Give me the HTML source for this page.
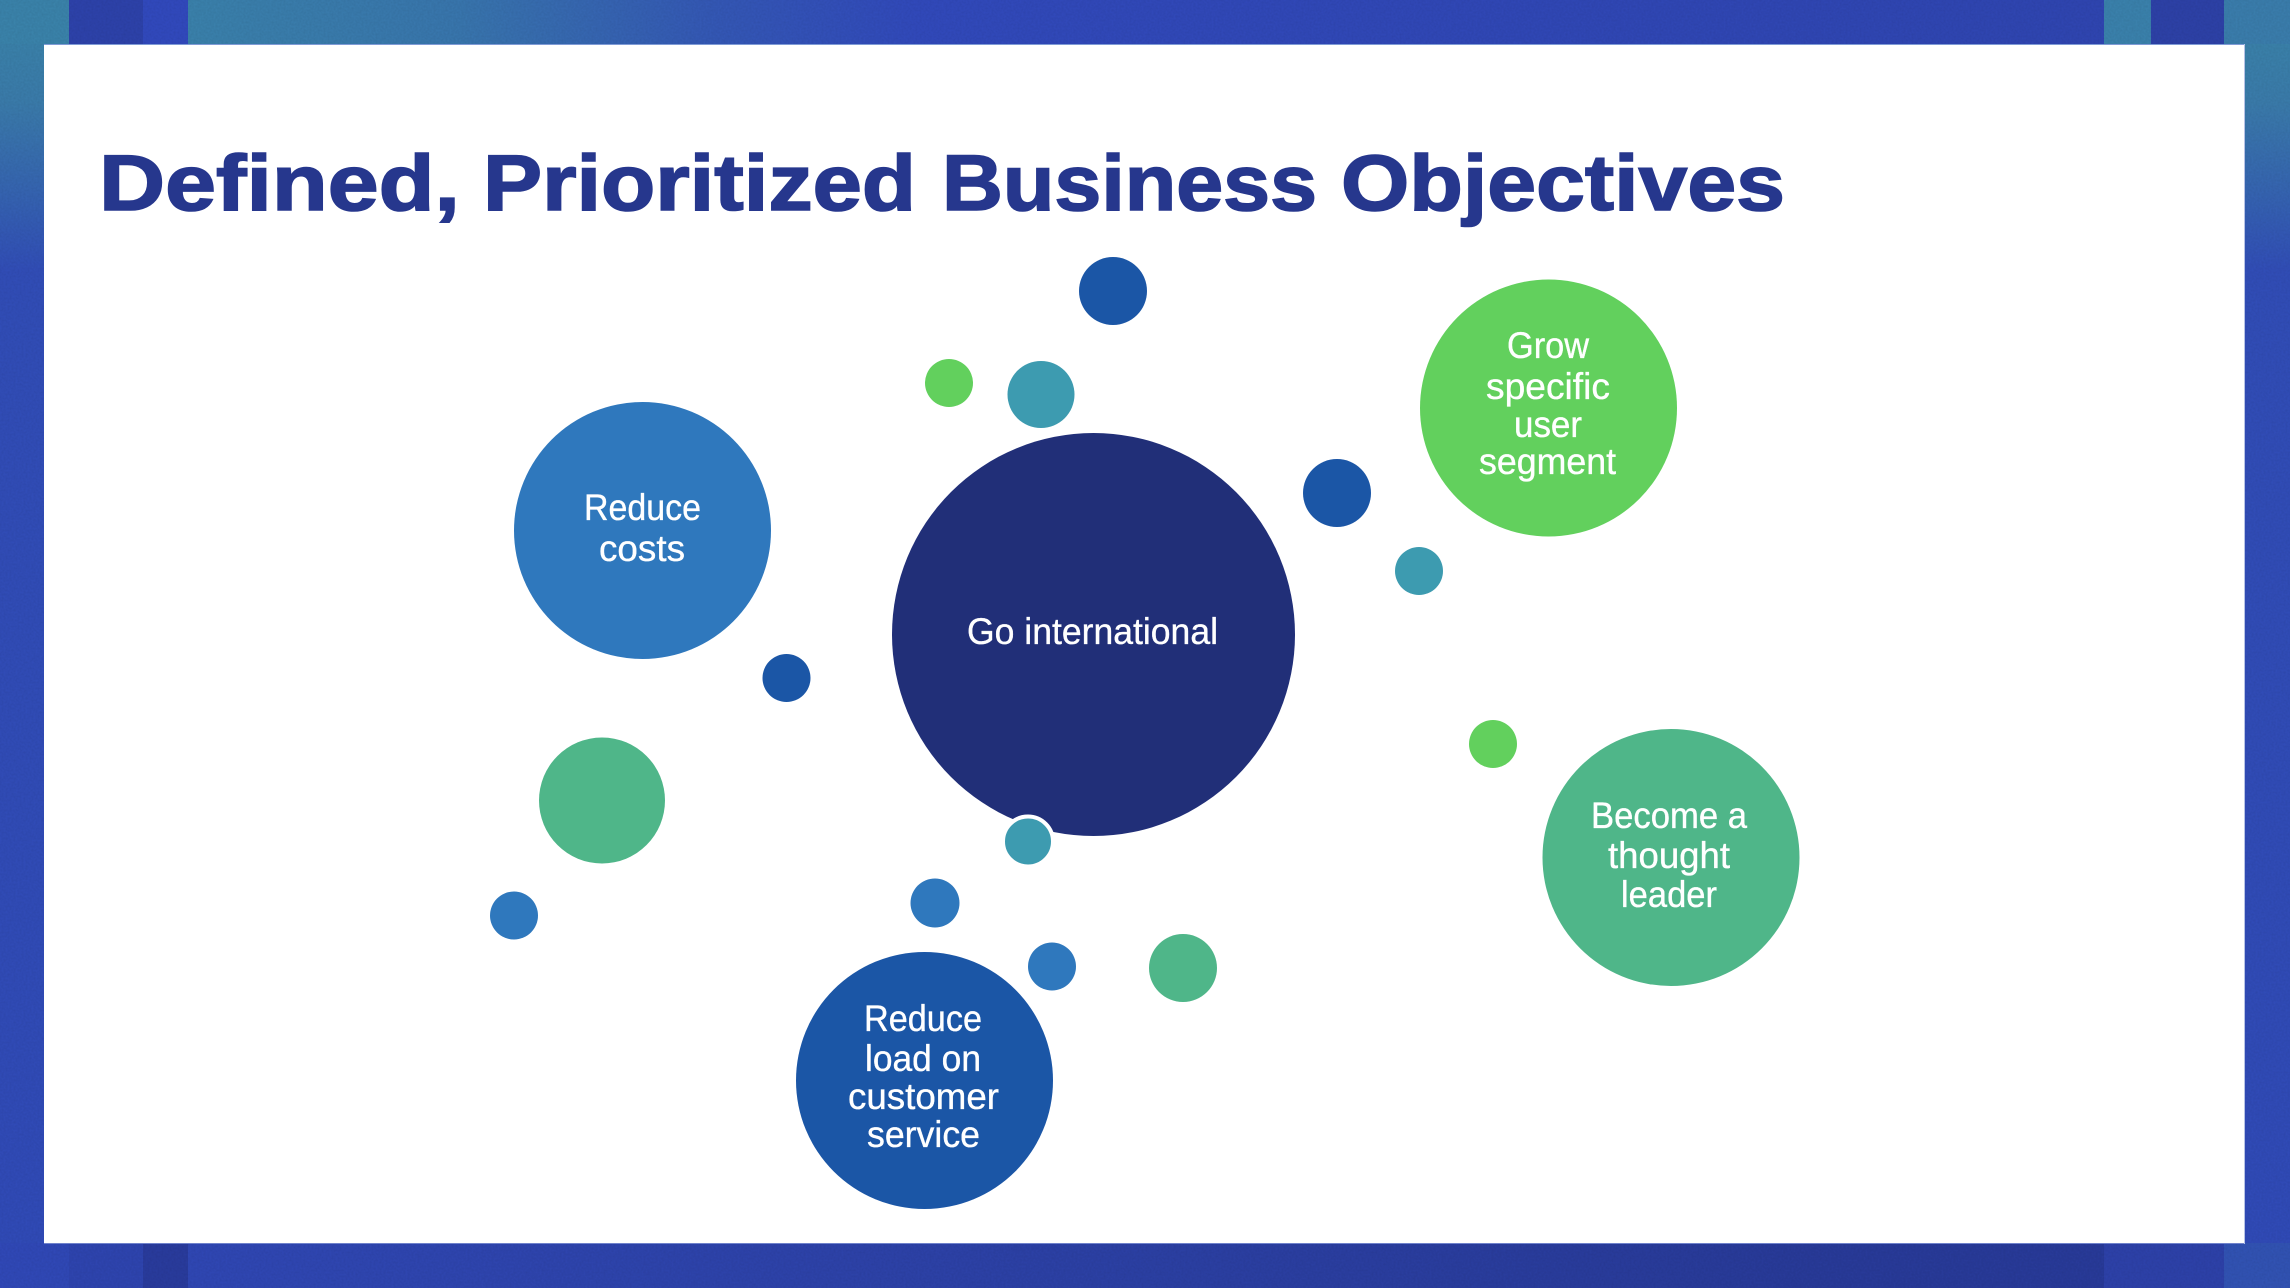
<!DOCTYPE html>
<html lang="en">
<head>
<meta charset="utf-8">
<title>Defined, Prioritized Business Objectives</title>
<style>
html,body{margin:0;padding:0;background:#2f47b0;}
body{width:2290px;height:1288px;overflow:hidden;}
svg{display:block;}
.t{font-family:"Liberation Sans",Arial,sans-serif;fill:#fff;stroke:#fff;stroke-width:0.35;font-size:37px;}
.h{font-family:"Liberation Sans",Arial,sans-serif;font-weight:700;font-size:79px;fill:#26378d;stroke:#26378d;stroke-width:1.6;}
</style>
</head>
<body>
<svg width="2290" height="1288" viewBox="0 0 2290 1288" xmlns="http://www.w3.org/2000/svg">
<defs>
<linearGradient id="top" x1="0" x2="1" y1="0" y2="0">
<stop offset="0" stop-color="#3a80aa"/>
<stop offset="0.14" stop-color="#3875ac"/>
<stop offset="0.27" stop-color="#3458b4"/>
<stop offset="0.38" stop-color="#3149ba"/>
<stop offset="1" stop-color="#2f45b0"/>
</linearGradient>
<linearGradient id="bot" x1="0" x2="1" y1="0" y2="0">
<stop offset="0" stop-color="#3048b6"/>
<stop offset="0.4" stop-color="#2d42a8"/>
<stop offset="0.85" stop-color="#283a98"/>
<stop offset="0.92" stop-color="#283a98"/>
</linearGradient>
<linearGradient id="side" x1="0" x2="0" y1="0" y2="1">
<stop offset="0" stop-color="#3a84a8"/>
<stop offset="0.08" stop-color="#3a7aa9"/>
<stop offset="0.15" stop-color="#3563b0"/>
<stop offset="0.21" stop-color="#314db6"/>
<stop offset="1" stop-color="#304ab6"/>
</linearGradient>
<filter id="n" x="0" y="0" width="100%" height="100%">
<feTurbulence type="fractalNoise" baseFrequency="0.5" numOctaves="2" seed="3"/>
<feColorMatrix values="0 0 0 0 0  0 0 0 0 0  0 0 0 0 0  0.5 0 0 0 -0.14"/>
</filter>
</defs>

<!-- side strips -->
<rect x="0" y="0" width="44" height="1288" fill="url(#side)"/>
<rect x="2245" y="0" width="45" height="1288" fill="url(#side)"/>

<!-- top band -->
<rect x="188" y="0" width="1917" height="44" fill="url(#top)"/>
<rect x="0" y="0" width="69" height="44" fill="#3a82a9"/>
<rect x="69" y="0" width="74" height="44" fill="#2d42a9"/>
<rect x="143" y="0" width="45" height="44" fill="#3149bc"/>
<rect x="2104" y="0" width="47" height="44" fill="#3a80ab"/>
<rect x="2151" y="0" width="73" height="44" fill="#2d41a6"/>
<rect x="2224" y="0" width="66" height="44" fill="#3a7cab"/>

<!-- bottom band -->
<rect x="0" y="1243" width="2105" height="45" fill="url(#bot)"/>
<rect x="69" y="1243" width="74" height="45" fill="#2e44ae"/>
<rect x="143" y="1243" width="45" height="45" fill="#293b9c"/>
<rect x="2104" y="1243" width="120" height="45" fill="#2d41a8"/>
<rect x="2224" y="1243" width="66" height="45" fill="#3152b2"/>

<!-- noise -->
<rect x="0" y="0" width="2290" height="1288" filter="url(#n)" opacity="0.2"/>

<!-- panel -->
<rect x="44" y="44" width="2200.5" height="1199" fill="#fff"/>
<rect x="44" y="44" width="2200.5" height="1" fill="#7f9bd6"/>
<rect x="44" y="1243" width="2200.5" height="1" fill="#6f82cc"/>
<rect x="2244" y="44" width="1" height="1200" fill="#b7c3e6"/>

<!-- title -->
<text class="h" x="99" y="210" textLength="361" lengthAdjust="spacingAndGlyphs">Defined,</text>
<text class="h" x="483" y="210" textLength="433" lengthAdjust="spacingAndGlyphs">Prioritized</text>
<text class="h" x="942" y="210" textLength="375" lengthAdjust="spacingAndGlyphs">Business</text>
<text class="h" x="1341" y="210" textLength="444" lengthAdjust="spacingAndGlyphs">Objectives</text>

<!-- big circles -->
<circle cx="1093.5" cy="634.5" r="201.5" fill="#212f78"/>
<circle cx="1548.5" cy="408" r="128.5" fill="#62d05d"/>
<circle cx="642.5" cy="530.5" r="128.5" fill="#2f78bd"/>
<circle cx="1671" cy="857.5" r="128.5" fill="#4fb689"/>
<circle cx="924.5" cy="1080.5" r="128.5" fill="#1b56a6"/>

<!-- small circles -->
<circle cx="1113" cy="291" r="34" fill="#1b56a6"/>
<circle cx="949" cy="383" r="24" fill="#62d05d"/>
<circle cx="1041" cy="394.5" r="33.5" fill="#3d9bb0"/>
<circle cx="1337" cy="493" r="34" fill="#1b56a6"/>
<circle cx="1419" cy="571" r="24" fill="#3d9bb0"/>
<circle cx="786.5" cy="678" r="24" fill="#1b56a6"/>
<circle cx="602" cy="800.5" r="63" fill="#4fb689"/>
<circle cx="514" cy="915.5" r="24" fill="#2f78bd"/>
<circle cx="1493" cy="744" r="24" fill="#62d05d"/>
<circle cx="1028" cy="841.5" r="25" fill="#3d9bb0" stroke="#fff" stroke-width="4"/>
<circle cx="935" cy="903" r="24.5" fill="#2f78bd"/>
<circle cx="1052" cy="966.5" r="24" fill="#2f78bd"/>
<circle cx="1183" cy="968" r="34" fill="#4fb689"/>

<!-- labels -->
<text class="t" x="967" y="644" textLength="251" lengthAdjust="spacingAndGlyphs">Go international</text>

<text class="t" x="1507" y="358" textLength="82" lengthAdjust="spacingAndGlyphs">Grow</text>
<text class="t" x="1486" y="399" textLength="124" lengthAdjust="spacingAndGlyphs">specific</text>
<text class="t" x="1514" y="437" textLength="68" lengthAdjust="spacingAndGlyphs">user</text>
<text class="t" x="1479" y="474" textLength="137" lengthAdjust="spacingAndGlyphs">segment</text>

<text class="t" x="584" y="520" textLength="117" lengthAdjust="spacingAndGlyphs">Reduce</text>
<text class="t" x="599" y="561" textLength="86" lengthAdjust="spacingAndGlyphs">costs</text>

<text class="t" x="1591" y="828" textLength="156" lengthAdjust="spacingAndGlyphs">Become a</text>
<text class="t" x="1608" y="868" textLength="122" lengthAdjust="spacingAndGlyphs">thought</text>
<text class="t" x="1621" y="907" textLength="96" lengthAdjust="spacingAndGlyphs">leader</text>

<text class="t" x="864" y="1031" textLength="118" lengthAdjust="spacingAndGlyphs">Reduce</text>
<text class="t" x="865" y="1071" textLength="116" lengthAdjust="spacingAndGlyphs">load on</text>
<text class="t" x="848" y="1109" textLength="151" lengthAdjust="spacingAndGlyphs">customer</text>
<text class="t" x="867" y="1147" textLength="113" lengthAdjust="spacingAndGlyphs">service</text>
</svg>
</body>
</html>
